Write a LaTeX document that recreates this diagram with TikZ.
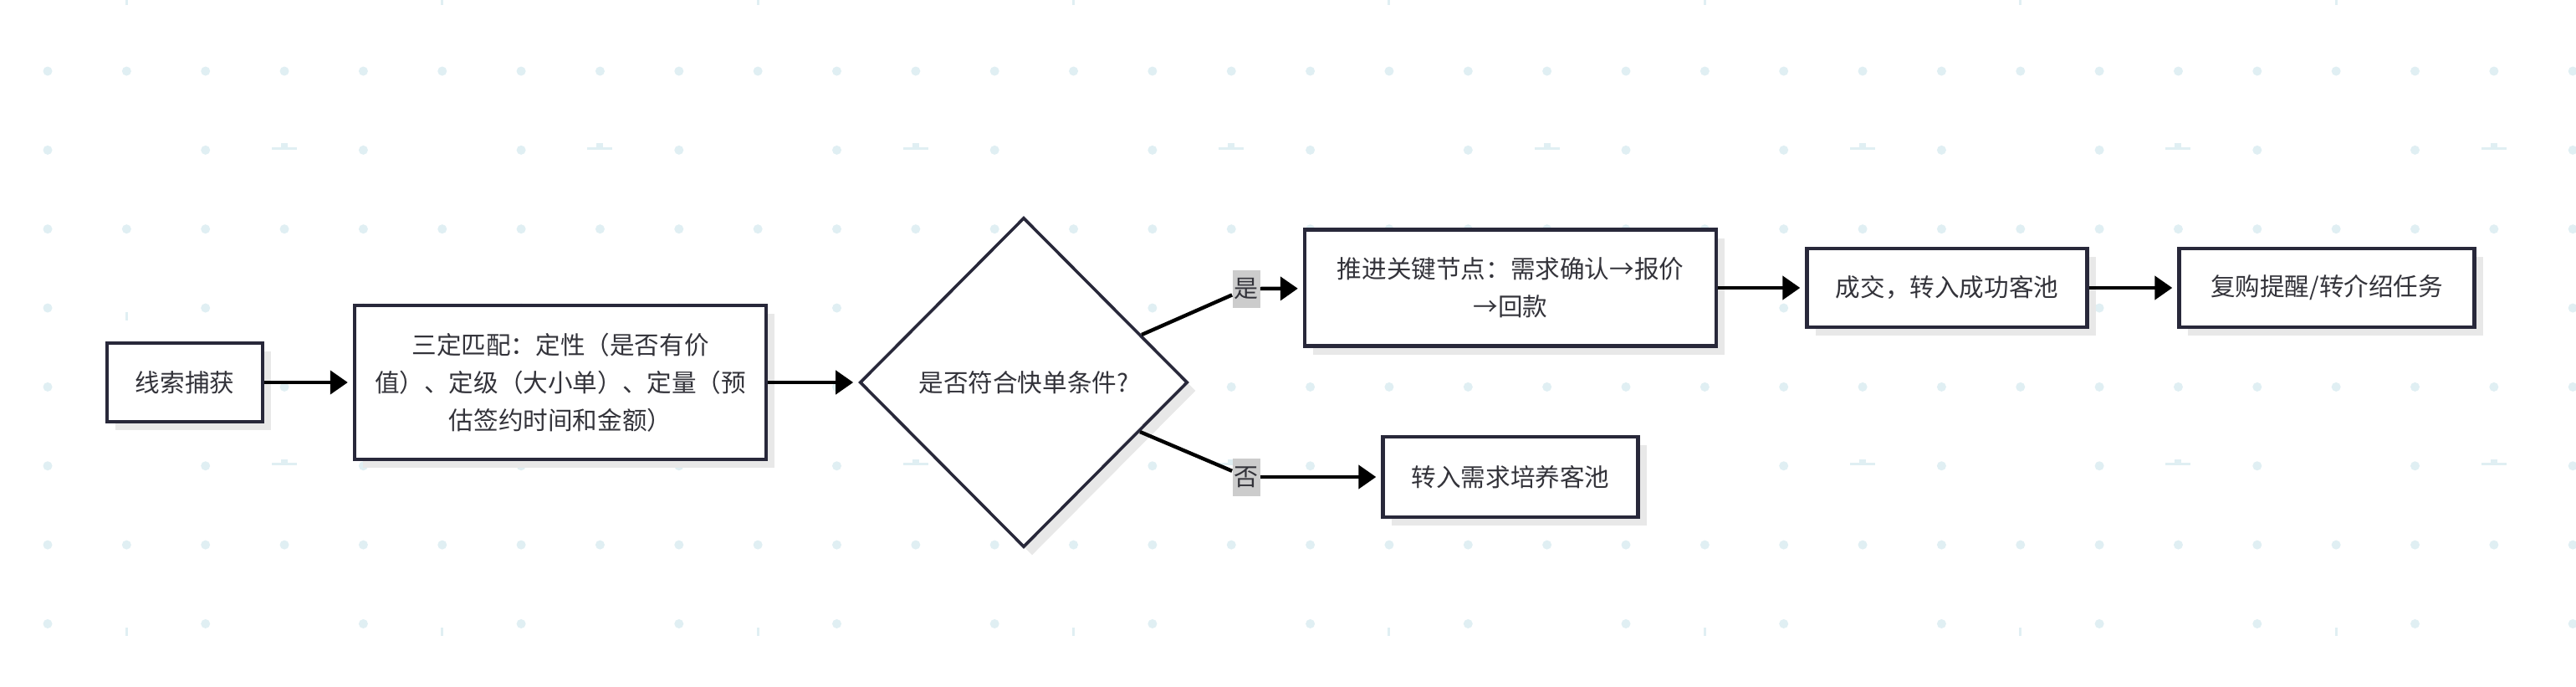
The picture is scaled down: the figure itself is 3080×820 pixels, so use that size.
\documentclass[tikz,border=0pt]{standalone}
\usepackage{fontspec}
\setmainfont{Noto Sans CJK SC}
\usetikzlibrary{shapes.geometric,arrows.meta,shadows}
\definecolor{boxline}{RGB}{40,40,58}
\definecolor{boxtext}{RGB}{51,51,58}
\definecolor{boxshadow}{RGB}{232,232,232}
\definecolor{griddot}{RGB}{224,239,243}
\definecolor{labelfill}{RGB}{204,204,204}

\begin{document}
\begin{tikzpicture}[
    x=0.5pt, y=-0.5pt,
    flow box/.style={
        draw=boxline, line width=2.2pt, fill=white,
        text=boxtext, align=center, inner sep=0pt,
        font=\fontsize{14.8pt}{22.5pt}\selectfont,
        drop shadow={shadow xshift=5pt, shadow yshift=-5pt, fill=boxshadow, opacity=1}
    },
    decision/.style={
        flow box, diamond, line width=1.8pt,
        minimum width=196pt, minimum height=197pt
    },
    flow arrow/.style={
        draw=black, line width=2.2pt,
        -{Triangle[length=10.5pt, width=14pt]}, shorten >=3pt
    },
    branch line/.style={draw=black, line width=2.2pt},
    branch label/.style={
        fill=labelfill, text=boxtext, inner xsep=1pt, inner ysep=0pt,
        minimum height=22.5pt, font=\fontsize{14.5pt}{16pt}\selectfont
    }
]
\useasboundingbox (0,0) rectangle (3080,820);
\fill[white] (0,0) rectangle (3080,820);

% background grid
\foreach \j in {0,2,4,6}
    \foreach \k in {0,...,32}
        \fill[griddot] ({57+94.35*\k},{85+94.35*\j}) circle[radius=2.75pt];
\foreach \j in {1,3,5,7}
    \foreach \k in {0,2,...,32}
        \fill[griddot] ({57+94.35*\k},{85+94.35*\j}) circle[radius=2.75pt];
\foreach \j in {1,5}
    \foreach \k in {3,7,...,31} {
        \fill[griddot] ({57+94.35*\k-15},{85+94.35*\j-3.5}) rectangle ++(30,3);
        \fill[griddot] ({57+94.35*\k-4},{85+94.35*\j-8}) rectangle ++(8,5);
    }
\foreach \j in {-1,3,7}
    \foreach \k in {1,5,...,29}
        \fill[griddot] ({57+94.35*\k-1.5},{85+94.35*\j+5}) rectangle ++(3,10);

% flow
\node[flow box, minimum width=93pt, minimum height=47pt] (capture) at (221,457) {线索捕获};
\node[flow box, minimum width=246pt, minimum height=92pt] (match) at (670,457)
    {三定匹配：定性（是否有价\\值）、定级（大小单）、定量（预\\估签约时间和金额）};
\node[decision] (quick) at (1224,457) {是否符合快单条件?};
\node[flow box, minimum width=246pt, minimum height=69.5pt] (advance) at (1806,344)
    {推进关键节点：需求确认→报价\\→回款};
\node[flow box, minimum width=167.5pt, minimum height=47pt] (deal) at (2328,344) {成交，转入成功客池};
\node[flow box, minimum width=176.5pt, minimum height=47pt] (repeat) at (2782,344) {复购提醒/转介绍任务};
\node[flow box, minimum width=152.5pt, minimum height=48pt] (nurture) at (1806,570) {转入需求培养客池};
\node[branch label] (yes) at (1490,345) {是};
\node[branch label] (no) at (1490,570) {否};

\draw[flow arrow] (capture) -- (match);
\draw[flow arrow] (match) -- (quick);
\draw[branch line] (quick.22) -- (yes);
\draw[flow arrow] (yes) -- (advance);
\draw[branch line] (quick.-23) -- (no);
\draw[flow arrow] (no) -- (nurture);
\draw[flow arrow] (advance) -- (deal);
\draw[flow arrow] (deal) -- (repeat);
\end{tikzpicture}
\end{document}
